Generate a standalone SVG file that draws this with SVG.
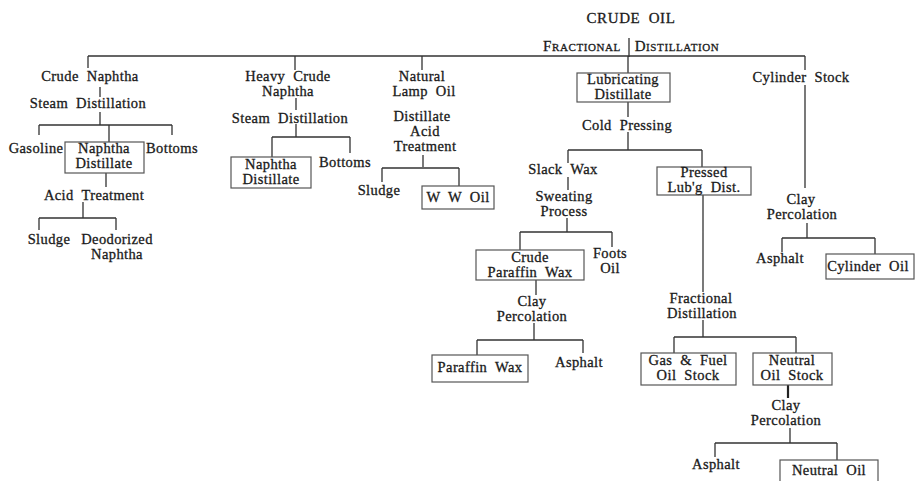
<svg xmlns="http://www.w3.org/2000/svg" width="916" height="481" viewBox="0 0 916 481">
<style>
text{font-family:"Liberation Serif","Times New Roman",serif;font-size:14.5px;fill:#1a1a1a;stroke:#1a1a1a;stroke-width:0.3px;text-anchor:middle;letter-spacing:0.4px;word-spacing:4px}
.sc{font-variant:small-caps;letter-spacing:0.6px;font-size:15px}
.cap{letter-spacing:0.6px;font-size:15px}
.box{fill:none;stroke:#555;stroke-width:1.2}
.ln{fill:none;stroke:#333;stroke-width:1.3}
.thick{fill:none;stroke:#222;stroke-width:2.2}
</style>
<rect width="916" height="481" fill="#fff"/>
<g id="connectors">
<path class="ln" d="M629,38V57 M88,56H805 M88,56V68 M295,56V70 M422,56V70 M628,56V73 M805,56V70 M805,85V188
M100,87V97 M100,112V125 M39,125H172 M39,125V135 M109,125V142 M172,125V135 M106,173V187 M83,202V218 M39,218H116 M39,218V230 M116,218V230
M296,98V110 M296,124V137 M272,137H350 M272,137V157 M350,137V153
M423,155V167 M382,168H459 M382,168V182 M459,168V186
M628,102V117 M628,132V150 M568,150H702 M568,150V163 M702,150V167 M568,177V190 M567,218V232 M520,232H612 M520,232V250 M612,232V247
M536,280V295 M534,323V340 M477,340H583 M477,340V355 M583,340V353
M703,195V292 M703,320V337 M674,337H796 M674,337V353 M796,337V353
M790,428V443 M715,443H837 M715,443V457 M837,443V460
M807,223V238 M782,238H875 M782,238V252 M875,238V254"/>
<path class="thick" d="M788,385V398"/>
</g>
<g id="crude-oil"><text class="cap" x="631" y="23">CRUDE OIL</text></g>
<g id="fractional-distillation-top"><text class="sc" x="582" y="51">Fractional</text><text class="sc" x="677" y="51">Distillation</text></g>

<g id="crude-naphtha"><text x="90" y="81">Crude Naphtha</text></g>
<g id="steam-distillation-1"><text x="88" y="108">Steam Distillation</text></g>
<g id="gasoline"><text x="36" y="153">Gasoline</text></g>
<g id="naphtha-distillate-1"><rect class="box" x="65" y="142" width="79" height="31"/><text x="104" y="153">Naphtha</text><text x="104" y="168">Distillate</text></g>
<g id="bottoms-1"><text x="172" y="153">Bottoms</text></g>
<g id="acid-treatment"><text x="94" y="200">Acid Treatment</text></g>
<g id="sludge-1"><text x="49" y="244">Sludge</text></g>
<g id="deodorized-naphtha"><text x="117" y="244">Deodorized</text><text x="117" y="259">Naphtha</text></g>

<g id="heavy-crude-naphtha"><text x="288" y="81">Heavy Crude</text><text x="288" y="96">Naphtha</text></g>
<g id="steam-distillation-2"><text x="290" y="123">Steam Distillation</text></g>
<g id="naphtha-distillate-2"><rect class="box" x="231" y="157" width="80" height="31"/><text x="271" y="169">Naphtha</text><text x="271" y="184">Distillate</text></g>
<g id="bottoms-2"><text x="345" y="167">Bottoms</text></g>

<g id="natural-lamp-oil"><text x="422" y="81">Natural</text><text x="424" y="96">Lamp Oil</text></g>
<g id="distillate-acid-treatment"><text x="422" y="121">Distillate</text><text x="425" y="136">Acid</text><text x="425" y="151">Treatment</text></g>
<g id="sludge-2"><text x="379" y="195">Sludge</text></g>
<g id="ww-oil"><rect class="box" x="422" y="186" width="72" height="23"/><text x="458" y="202">W W Oil</text></g>

<g id="lubricating-distillate"><rect class="box" x="577" y="73" width="93" height="29"/><text x="623" y="84">Lubricating</text><text x="623" y="99">Distillate</text></g>
<g id="cold-pressing"><text x="627" y="130">Cold Pressing</text></g>
<g id="slack-wax"><text x="563" y="174">Slack Wax</text></g>
<g id="pressed-lubg-dist"><rect class="box" x="657" y="167" width="94" height="28"/><text x="704" y="177">Pressed</text><text x="704" y="192">Lub'g Dist.</text></g>
<g id="sweating-process"><text x="564" y="201">Sweating</text><text x="564" y="216">Process</text></g>
<g id="crude-paraffin-wax"><rect class="box" x="476" y="250" width="108" height="30"/><text x="530" y="262">Crude</text><text x="530" y="277">Paraffin Wax</text></g>
<g id="foots-oil"><text x="610" y="258">Foots</text><text x="610" y="273">Oil</text></g>
<g id="clay-percolation-1"><text x="532" y="306">Clay</text><text x="532" y="321">Percolation</text></g>
<g id="paraffin-wax"><rect class="box" x="432" y="355" width="96" height="27"/><text x="480" y="372">Paraffin Wax</text></g>
<g id="asphalt-1"><text x="579" y="367">Asphalt</text></g>

<g id="fractional-distillation-2"><text x="701" y="303">Fractional</text><text x="702" y="318">Distillation</text></g>
<g id="gas-fuel-oil-stock"><rect class="box" x="641" y="353" width="95" height="32"/><text x="688" y="365">Gas &amp; Fuel</text><text x="688" y="380">Oil Stock</text></g>
<g id="neutral-oil-stock"><rect class="box" x="753" y="353" width="79" height="32"/><text x="792" y="365">Neutral</text><text x="792" y="380">Oil Stock</text></g>
<g id="clay-percolation-3"><text x="786" y="410">Clay</text><text x="786" y="425">Percolation</text></g>
<g id="asphalt-3"><text x="716" y="469">Asphalt</text></g>
<g id="neutral-oil"><rect class="box" x="780" y="460" width="98" height="24"/><text x="829" y="475">Neutral Oil</text></g>

<g id="cylinder-stock"><text x="801" y="82">Cylinder Stock</text></g>
<g id="clay-percolation-2"><text x="801" y="204">Clay</text><text x="802" y="219">Percolation</text></g>
<g id="asphalt-2"><text x="780" y="263">Asphalt</text></g>
<g id="cylinder-oil"><rect class="box" x="826" y="254" width="88" height="25"/><text x="868" y="271">Cylinder Oil</text></g>
</svg>
